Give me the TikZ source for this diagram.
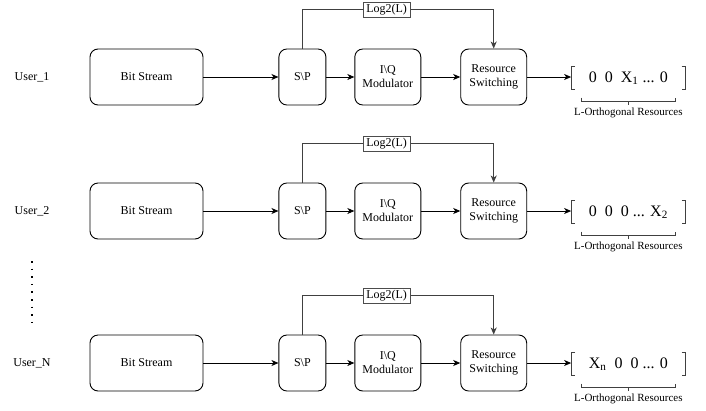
\documentclass[tikz,border=0pt]{standalone}
\usepackage{fontspec}
\setmainfont{Liberation Serif}
\usetikzlibrary{arrows.meta, positioning}

\begin{document}
\begin{tikzpicture}[
x=1pt, y=-1pt,
font=\fontsize{12}{14}\selectfont,
box/.style={rectangle, rounded corners=8pt, draw, line width=0.9pt, align=center, minimum height=56pt, inner sep=1pt},
line/.style={-{Stealth[length=7pt, width=6pt, inset=2pt]}, line width=0.9pt},
ctrl/.style={line, draw=black!75},
tag/.style={draw=black!70, fill=white, line width=0.6pt, inner xsep=3pt, inner ysep=2pt},
vec/.style={minimum width=114pt, minimum height=23pt, inner sep=0pt, font=\fontsize{16}{18}\selectfont},
brk/.style={draw=black!75, line width=0.9pt},
note/.style={font=\fontsize{11}{13}\selectfont, inner sep=0pt}
]

\useasboundingbox (0,0) rectangle (706,410);

% user 1
\node (user1) at (32,77) {User\_1};
\node[box, minimum width=113pt] (bits1) at (146.5,77) {Bit Stream};
\node[box, minimum width=47pt, right=75pt of bits1] (sp1) {S\textbackslash P};
\node[box, minimum width=66pt, right=28pt of sp1] (iq1) {I\textbackslash Q\\Modulator};
\node[box, minimum width=66pt, right=39pt of iq1] (rs1) {Resource\\Switching};
\node[vec, right=44pt of rs1, yshift=-1pt] (res1) {0\ \ 0\ \ X\textsubscript{1} ... 0};
\node[note, below=18pt of res1] (orth1) {L-Orthogonal Resources};

\draw[line] (bits1) -- (sp1);
\draw[line] (sp1) -- (iq1);
\draw[line] (iq1) -- (rs1);
\draw[line] (rs1) -- (res1.west |- rs1);
\draw[ctrl] (sp1.north) -- ++(0,39pt) -| node[tag, pos=0.22] {Log2(L)} (rs1.north);
\draw[brk] ([xshift=4pt]res1.north west) -| (res1.south west) -- ++(4pt,0);
\draw[brk] ([xshift=-4pt]res1.north east) -| (res1.south east) -- ++(-4pt,0);
\draw[brk] ([shift={(10pt,-8pt)}]res1.south west) -- ++(0,-4pt) -| ([shift={(-10pt,-8pt)}]res1.south east);
\draw[brk] ([yshift=-12pt]res1.south) -- ++(0,-3pt);

% user 2
\node (user2) at (32,211) {User\_2};
\node[box, minimum width=113pt] (bits2) at (146.5,211) {Bit Stream};
\node[box, minimum width=47pt, right=75pt of bits2] (sp2) {S\textbackslash P};
\node[box, minimum width=66pt, right=28pt of sp2] (iq2) {I\textbackslash Q\\Modulator};
\node[box, minimum width=66pt, right=39pt of iq2] (rs2) {Resource\\Switching};
\node[vec, right=44pt of rs2, yshift=-1pt] (res2) {0\ \ 0\ \ 0 ... X\textsubscript{2}};
\node[note, below=18pt of res2] (orth2) {L-Orthogonal Resources};

\draw[line] (bits2) -- (sp2);
\draw[line] (sp2) -- (iq2);
\draw[line] (iq2) -- (rs2);
\draw[line] (rs2) -- (res2.west |- rs2);
\draw[ctrl] (sp2.north) -- ++(0,39pt) -| node[tag, pos=0.22] {Log2(L)} (rs2.north);
\draw[brk] ([xshift=4pt]res2.north west) -| (res2.south west) -- ++(4pt,0);
\draw[brk] ([xshift=-4pt]res2.north east) -| (res2.south east) -- ++(-4pt,0);
\draw[brk] ([shift={(10pt,-8pt)}]res2.south west) -- ++(0,-4pt) -| ([shift={(-10pt,-8pt)}]res2.south east);
\draw[brk] ([yshift=-12pt]res2.south) -- ++(0,-3pt);

% more users
\draw[line width=1.6pt, dash pattern=on 1.6pt off 6pt] (32,261) -- (32,325);

% user N
\node (userN) at (32,363) {User\_N};
\node[box, minimum width=113pt] (bitsN) at (146.5,363) {Bit Stream};
\node[box, minimum width=47pt, right=75pt of bitsN] (spN) {S\textbackslash P};
\node[box, minimum width=66pt, right=28pt of spN] (iqN) {I\textbackslash Q\\Modulator};
\node[box, minimum width=66pt, right=39pt of iqN] (rsN) {Resource\\Switching};
\node[vec, right=44pt of rsN, yshift=-1pt] (resN) {X\textsubscript{n}\ \ 0\ \ 0 ... 0};
\node[note, below=18pt of resN] (orthN) {L-Orthogonal Resources};

\draw[line] (bitsN) -- (spN);
\draw[line] (spN) -- (iqN);
\draw[line] (iqN) -- (rsN);
\draw[line] (rsN) -- (resN.west |- rsN);
\draw[ctrl] (spN.north) -- ++(0,39pt) -| node[tag, pos=0.22] {Log2(L)} (rsN.north);
\draw[brk] ([xshift=4pt]resN.north west) -| (resN.south west) -- ++(4pt,0);
\draw[brk] ([xshift=-4pt]resN.north east) -| (resN.south east) -- ++(-4pt,0);
\draw[brk] ([shift={(10pt,-8pt)}]resN.south west) -- ++(0,-4pt) -| ([shift={(-10pt,-8pt)}]resN.south east);
\draw[brk] ([yshift=-12pt]resN.south) -- ++(0,-3pt);

\end{tikzpicture}
\end{document}
